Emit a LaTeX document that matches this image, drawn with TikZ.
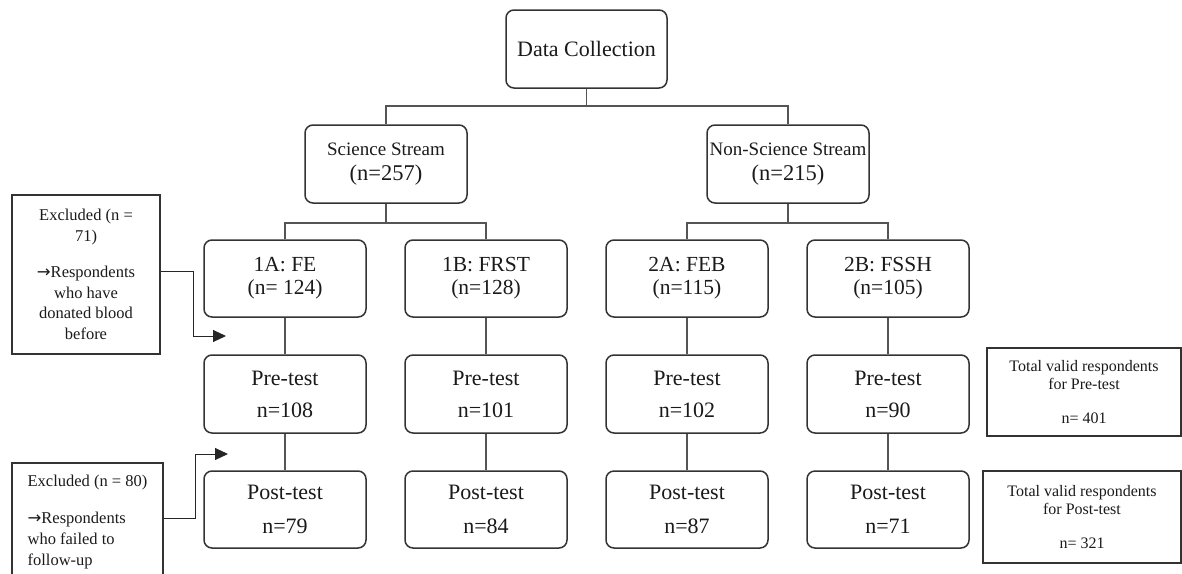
\documentclass[tikz,border=0pt]{standalone}
\usepackage{fontspec}
\setmainfont{Liberation Serif}
\newfontfamily\arrowfont{DejaVu Sans}
\usetikzlibrary{arrows.meta,calc}
\definecolor{boxline}{HTML}{333333}
\definecolor{connline}{HTML}{555555}
\definecolor{txt}{HTML}{1A1A1A}
\newcommand{\rarr}{{\arrowfont →}}
\begin{document}
\begin{tikzpicture}[x=1pt,y=-1pt,
  rbox/.style={draw=boxline, line width=1.5pt, rounded corners=8pt, inner sep=0pt,
    align=center, text=txt, minimum width=162pt, minimum height=78pt},
  sbox/.style={draw=boxline, line width=1.2pt, inner sep=0pt, text=txt},
  conn/.style={draw=connline, line width=1.3pt},
  exarr/.style={draw=black!85, line width=1pt, -{Triangle[length=13pt,width=12pt]}},
  grpfont/.style={font=\fontsize{21.5}{23}\selectfont},
  prefont/.style={font=\fontsize{22}{32}\selectfont},
  postfont/.style={font=\fontsize{22}{34}\selectfont},
  strfont/.style={font=\fontsize{19}{25}\selectfont}
]
\useasboundingbox (0,0) rectangle (1182,573);
\clip (0,0) rectangle (1182,573);

% top
\node[rbox, minimum width=161pt, font=\fontsize{22}{24}\selectfont] (dc) at (586.5,49) {Data Collection};

% streams
\node[rbox, strfont] (sci) at (386,164) {Science Stream\\{\fontsize{22.5}{25}\selectfont (n=257)}};
\node[rbox, strfont] (nsci) at (788,164) {Non-Science Stream\\{\fontsize{22.5}{25}\selectfont (n=215)}};

% groups
\node[rbox, grpfont, minimum height=77pt] (g1) at (285,278.5) {1A: FE\\(n= 124)};
\node[rbox, grpfont, minimum height=77pt] (g2) at (486,278.5) {1B: FRST\\(n=128)};
\node[rbox, grpfont, minimum height=77pt] (g3) at (687,278.5) {2A: FEB\\(n=115)};
\node[rbox, grpfont, minimum height=77pt] (g4) at (888,278.5) {2B: FSSH\\(n=105)};

% pre-test
\node[rbox, prefont] (p1) at (285,394) {Pre-test\\n=108};
\node[rbox, prefont] (p2) at (486,394) {Pre-test\\n=101};
\node[rbox, prefont] (p3) at (687,394) {Pre-test\\n=102};
\node[rbox, prefont] (p4) at (888,394) {Pre-test\\n=90};

% post-test
\node[rbox, postfont, minimum height=77pt] (q1) at (285,509.5) {Post-test\\n=79};
\node[rbox, postfont, minimum height=77pt] (q2) at (486,509.5) {Post-test\\n=84};
\node[rbox, postfont, minimum height=77pt] (q3) at (687,509.5) {Post-test\\n=87};
\node[rbox, postfont, minimum height=77pt] (q4) at (888,509.5) {Post-test\\n=71};

% junctions
\coordinate (j0) at (586.5,106);
\coordinate (j1) at (386,223);
\coordinate (j2) at (788,223);

\draw[conn] (dc.south) -- (j0);
\draw[conn] (sci.north) |- (j0) -| (nsci.north);
\draw[conn] (sci.south) -- (j1);
\draw[conn] (g1.north) |- (j1) -| (g2.north);
\draw[conn] (nsci.south) -- (j2);
\draw[conn] (g3.north) |- (j2) -| (g4.north);
\foreach \i in {1,2,3,4}{
  \draw[conn] (g\i.south) -- (p\i.north);
  \draw[conn] (p\i.south) -- (q\i.north);
}

% exclusion boxes
\node[sbox, align=center, minimum width=148pt, minimum height=159pt,
  font=\fontsize{16.5}{20.5}\selectfont] (ex1) at (86,274.5)
  {Excluded (n =\\71)\\[16pt]\rarr Respondents\\who have\\donated blood\\before};
\node[sbox, align=left, minimum width=151pt, minimum height=118pt,
  font=\fontsize{16.5}{21}\selectfont] (ex2) at (87.5,522)
  {Excluded (n = 80)\\[16pt]\rarr Respondents\\who failed to\\follow-up};

\coordinate (a1) at (226,336);
\coordinate (a2) at (228,454);
\draw[exarr] ([yshift=3.5pt]ex1.east) -- ++(33,0) |- (a1);
\draw[exarr] ([yshift=4pt]ex2.east) -- ++(32,0) |- (a2);

% totals
\node[sbox, align=center, minimum width=194pt, minimum height=88pt,
  font=\fontsize{16}{18}\selectfont] (t1) at (1084,392)
  {Total valid respondents\\for Pre-test\\[16pt]n= 401};
\node[sbox, align=center, minimum width=198pt, minimum height=92pt,
  font=\fontsize{16}{18}\selectfont] (t2) at (1082,517)
  {Total valid respondents\\for Post-test\\[16pt]n= 321};
\end{tikzpicture}
\end{document}
